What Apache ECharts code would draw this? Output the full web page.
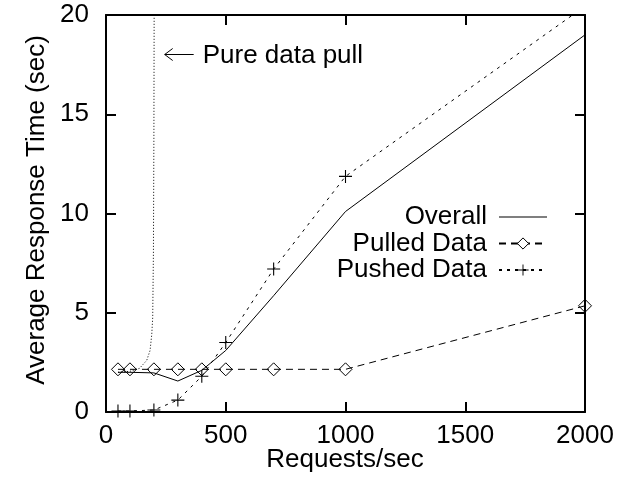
<!DOCTYPE html>
<html>
<head>
<meta charset="utf-8">
<script src="https://cdn.jsdelivr.net/npm/echarts@6/dist/echarts.min.js"></script>
<style>
html,body{margin:0;padding:0;background:#fff;}
#main{width:625px;height:478px;}
</style>
</head>
<body>
<div id="main"></div>
<script>
// ---- data ----
var xValues = [50, 100, 200, 300, 400, 500, 700, 1000, 2000];
var overall = [2.0, 2.0, 1.97, 1.56, 2.1, 3.1, 5.86, 10.1, 19.0];
var pulled  = [2.15, 2.15, 2.15, 2.15, 2.15, 2.15, 2.15, 2.15, 5.35];
var pushed  = [0.05, 0.05, 0.1, 0.6, 1.8, 3.5, 7.2, 11.87, 20.44];
var pureX   = [50, 100, 140, 170, 184, 191, 195, 198, 200, 201, 201.5];
var pureY   = [2.0, 2.05, 2.2, 2.6, 3.1, 3.9, 4.75, 8, 14, 20, 25];
var xTicks = [0, 500, 1000, 1500, 2000];
var yTicks = [0, 5, 10, 15, 20];
var seriesNames = ['Overall', 'Pulled Data', 'Pushed Data'];
var annotation = 'Pure data pull';
var xTitle = 'Requests/sec';
var yTitle = 'Average Response Time (sec)';

function pairs(xs, ys) { return xs.map(function (x, i) { return [x, ys[i]]; }); }

var FONT = 'Liberation Sans, Arial, sans-serif';
var FS = 26;
var plusPath = 'path://M0,5.5H12V6.5H0Z M5.5,0H6.5V12H5.5Z';
var linePath = 'path://M0,0H48V1H0Z';

var chart = echarts.init(document.getElementById('main'), null, {renderer: 'canvas'});

function mkX(show, pos) {
  return {
    type: 'value', position: pos, min: xTicks[0], max: xTicks[xTicks.length - 1], interval: 500,
    axisLine: {show: true, onZero: false, lineStyle: {color: '#000', width: 2}},
    axisTick: {show: true, inside: true, length: 10, lineStyle: {color: '#000', width: 2}},
    axisLabel: {show: show, color: '#000', fontSize: FS, fontFamily: FONT, margin: 11,
      formatter: function (v) { return String(v); }},
    splitLine: {show: false}
  };
}
function mkY(show, pos) {
  return {
    type: 'value', position: pos, min: yTicks[0], max: yTicks[yTicks.length - 1], interval: 5,
    axisLine: {show: true, onZero: false, lineStyle: {color: '#000', width: 2}},
    axisTick: {show: true, inside: true, length: 10, lineStyle: {color: '#000', width: 2}},
    axisLabel: {show: show, color: '#000', fontSize: FS, fontFamily: FONT, margin: 17},
    splitLine: {show: false}
  };
}

var option = {
  animation: false,
  backgroundColor: '#fff',
  grid: {left: 106, right: 40, top: 15, bottom: 66, containLabel: false},
  xAxis: [mkX(true, 'bottom'), mkX(false, 'top')],
  yAxis: [mkY(true, 'left'), mkY(false, 'right')],
  legend: {
    orient: 'vertical', align: 'right', right: 72, top: 199,
    itemWidth: 48, itemHeight: 14, itemGap: 0.5,
    data: [
      {name: seriesNames[0], icon: linePath},
      {name: seriesNames[1], itemStyle: {color: '#fff', borderColor: '#000', borderWidth: 1}},
      seriesNames[2]
    ],
    textStyle: {color: '#000', fontSize: FS, fontFamily: FONT, lineHeight: 26, padding: [0, 7, 0, 0]}
  },
  series: [
    {
      name: seriesNames[0], type: 'line', data: pairs(xValues, overall),
      symbol: 'none', lineStyle: {color: '#000', width: 1, type: 'solid'},
      itemStyle: {color: '#000'}, z: 3
    },
    {
      name: seriesNames[1], type: 'line', data: pairs(xValues, pulled),
      symbol: 'diamond', symbolSize: [13, 13], showAllSymbol: true,
      lineStyle: {color: '#000', width: 1, type: [7, 5]},
      itemStyle: {color: 'rgba(255,255,255,0)', borderColor: '#000', borderWidth: 1}, z: 4
    },
    {
      name: seriesNames[2], type: 'line', data: pairs(xValues, pushed),
      symbol: plusPath, symbolSize: 13, showAllSymbol: true,
      lineStyle: {color: '#000', width: 1, type: [3, 5]},
      itemStyle: {color: '#000'}, z: 4
    },
    {
      name: 'Pure data pull', type: 'line', data: pairs(pureX, pureY),
      symbol: 'none', smooth: false,
      lineStyle: {color: '#000', width: 1, type: [1, 2]}, z: 2
    }
  ]
};
chart.setOption(option);

// annotation anchored at data coordinates (arrow tip near the pure-pull asymptote)
var tip = chart.convertToPixel({xAxisIndex: 0, yAxisIndex: 0}, [245, 18.05]);
var ax = tip[0], ay = Math.round(tip[1]) + 0.5;
chart.setOption({
  graphic: [
    {type: 'line', shape: {x1: ax, y1: ay, x2: ax + 29, y2: ay}, style: {stroke: '#000', lineWidth: 1}},
    {type: 'polyline', shape: {points: [[ax + 8, ay - 6], [ax, ay], [ax + 8, ay + 6]]}, style: {stroke: '#000', lineWidth: 1, fill: null}},
    {type: 'text', x: ax + 38, y: ay + 1, style: {text: annotation, fill: '#000', font: FS + 'px ' + FONT, verticalAlign: 'middle'}},
    {type: 'text', x: 345, y: 460, style: {text: xTitle, fill: '#000', font: FS + 'px ' + FONT, align: 'center', verticalAlign: 'middle'}},
    {type: 'text', x: 37, y: 210, rotation: Math.PI / 2, style: {text: yTitle, fill: '#000', font: FS + 'px ' + FONT, align: 'center', verticalAlign: 'middle'}}
  ]
});
</script>
</body>
</html>
